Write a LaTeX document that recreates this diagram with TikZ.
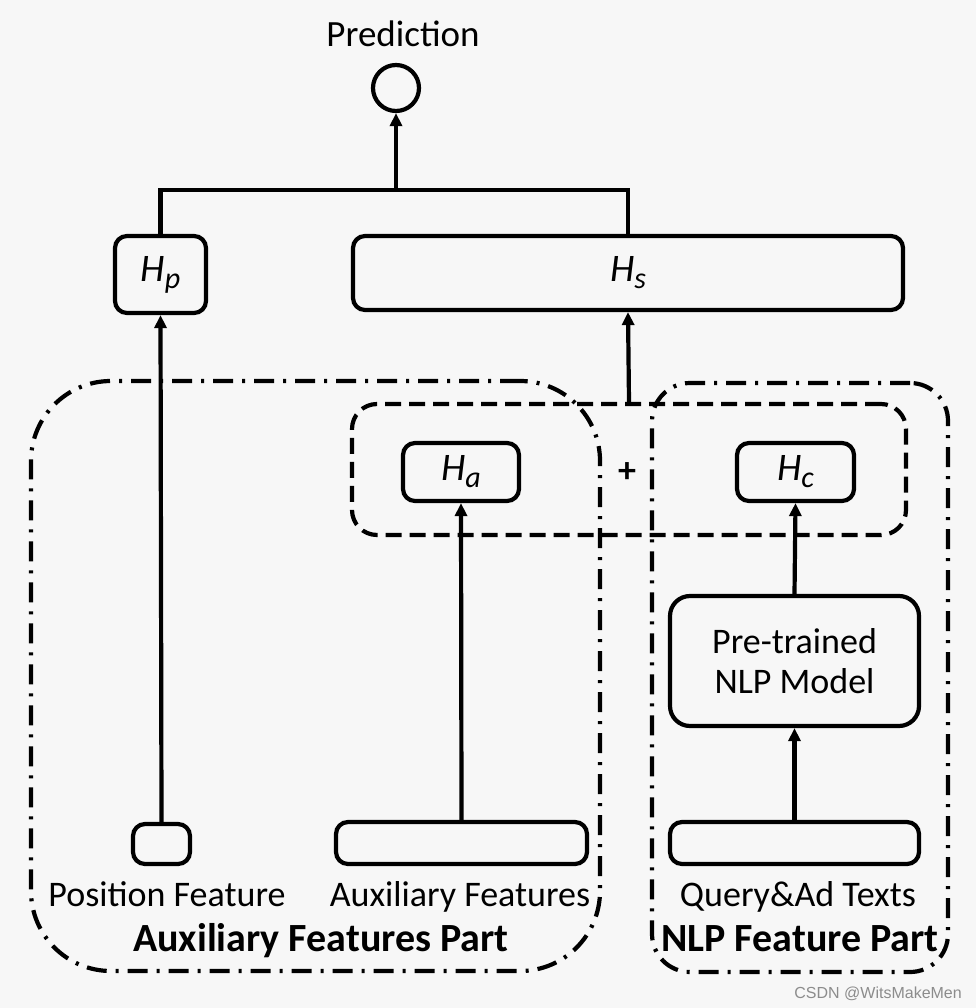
\documentclass[tikz,border=0pt]{standalone}
\usepackage{fontspec}
\setmainfont{Carlito}
\newfontfamily\wmfont{Liberation Sans}
\usetikzlibrary{arrows.meta}
\tikzset{
  x=1pt, y=-1pt,
  every node/.style={font=\fontsize{36}{40}\selectfont},
  box/.style={draw, line width=4.2pt, rounded corners=12pt, inner sep=0pt},
  arr/.style={line width=4.2pt, -{Triangle[length=13pt,width=12pt]}},
  conn/.style={line width=4.2pt},
  dashframe/.style={draw, line width=4.2pt, dash pattern=on 16pt off 8pt, inner sep=0pt},
  dotframe/.style={draw, line width=4.2pt, dash pattern=on 20pt off 9pt on 3pt off 9pt, inner sep=0pt},
  lbl/.style={inner sep=0pt, anchor=base},
  partlbl/.style={inner sep=0pt, anchor=base, font=\fontsize{40}{44}\selectfont\bfseries},
}
\newcommand{\Hsub}[1]{{\fontsize{39}{40}\selectfont\itshape H}\raisebox{-0.4ex}{\fontsize{30}{30}\selectfont\itshape #1}}
\begin{document}
\begin{tikzpicture}
\fill[black!3] (0,0) rectangle (976,1008);
\useasboundingbox (0,0) rectangle (976,1008);

% group frames
\node[dotframe, rounded corners=80pt, minimum width=569pt, minimum height=590pt] (auxpart) at (315.5,676) {};
\node[dotframe, rounded corners=38pt, minimum width=296pt, minimum height=589pt] (nlppart) at (800,677.5) {};
\node[dashframe, rounded corners=25pt, minimum width=554pt, minimum height=131pt] (sum) at (629,469.5) {};

% top
\node[lbl, font=\fontsize{37}{40}\selectfont] (predlbl) at (403,47) {Prediction};
\node[draw, circle, line width=4.2pt, minimum size=46pt, inner sep=0pt] (pred) at (396,88) {};
\node[box, minimum width=91pt, minimum height=77pt] (Hp) at (160.5,274.5) {\Hsub{p}};
\node[box, minimum width=550pt, minimum height=74pt] (Hs) at (628,273) {\Hsub{s}};

% middle
\node[box, minimum width=116pt, minimum height=58pt] (Ha) at (461,472) {\Hsub{a}};
\node[box, minimum width=117pt, minimum height=58pt] (Hc) at (795.5,472) {\Hsub{c}};
\node[inner sep=0pt] (plus) at (627,473) {\bfseries +};
\node[box, rounded corners=20pt, minimum width=249pt, minimum height=130pt, align=center, font=\fontsize{36}{40}\selectfont] (nlp) at (794.5,661) {Pre-trained\\NLP Model};

% bottom inputs
\node[box, minimum width=57pt, minimum height=40pt] (pbox) at (161.5,844) {};
\node[box, minimum width=251pt, minimum height=42pt] (abox) at (461.5,843) {};
\node[box, minimum width=249pt, minimum height=42pt] (qbox) at (794.5,843) {};

\node[lbl] (plbl) at (167,906) {Position Feature};
\node[lbl] (albl) at (460,906) {Auxiliary Features};
\node[lbl] (qlbl) at (798,906) {Query\&Ad Texts};
\node[partlbl] (auxlbl) at (321,951) {Auxiliary Features Part};
\node[partlbl] (nlplbl) at (800,951) {NLP Feature Part};

\node[anchor=base east, inner sep=0pt, font=\fontsize{16}{18}\selectfont\wmfont, text=black!45] (wm) at (962,998) {CSDN @WitsMakeMen};

% connectors
\coordinate (j) at (396,190);
\draw[conn] (Hp.north) |- (j) -| (Hs.north);
\draw[arr] (j) -- (pred.south);
\draw[arr] (pbox.north) -- (Hp.south);
\draw[arr] (sum.north) -- (Hs.south);
\draw[arr] (abox.north) -- (Ha.south);
\draw[arr] (nlp.north) -- (Hc.south);
\draw[arr] (qbox.north) -- (nlp.south);
\end{tikzpicture}
\end{document}
